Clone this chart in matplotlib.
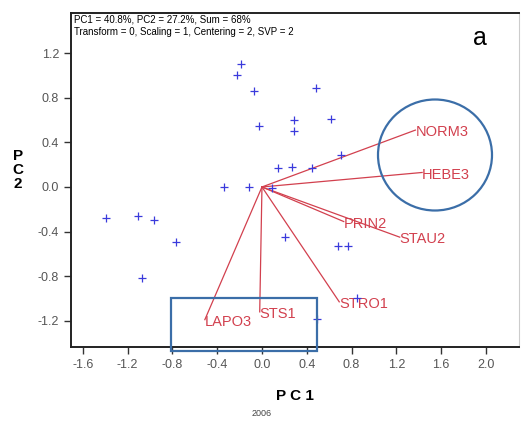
import matplotlib
matplotlib.use("Agg")
import matplotlib.pyplot as plt
from matplotlib.patches import Ellipse, Rectangle

plt.rcParams['font.family'] = ['Liberation Sans', 'DejaVu Sans']

# Sample scores (blue crosses)
score_x = [-0.19, -0.22, -0.07, 0.48, -0.03, 0.29, 0.29, 0.62, 0.71,
           0.14, 0.27, 0.45, -0.34, -0.12, 0.09,
           -1.39, -1.11, -0.96, -0.77, 0.21, 0.68, 0.77, -1.07, 0.85, 0.49]
score_y = [1.10, 1.00, 0.86, 0.89, 0.55, 0.60, 0.50, 0.61, 0.29,
           0.17, 0.18, 0.17, 0.00, 0.00, -0.01,
           -0.28, -0.26, -0.30, -0.49, -0.45, -0.53, -0.53, -0.82, -1.00, -1.18]

# Variable loadings (red vectors)
var_names = ["NORM3", "HEBE3", "PRIN2", "STAU2", "STRO1", "STS1", "LAPO3"]
var_x = [1.37, 1.43, 0.73, 1.23, 0.69, -0.02, -0.51]
var_y = [0.51, 0.13, -0.31, -0.45, -1.03, -1.12, -1.19]

xticks = [-1.6, -1.2, -0.8, -0.4, 0.0, 0.4, 0.8, 1.2, 1.6, 2.0]
yticks = [-1.2, -0.8, -0.4, 0.0, 0.4, 0.8, 1.2]

W, H = 523, 422
fig = plt.figure(figsize=(W / 100, H / 100), dpi=100)
ax = fig.add_axes([71 / W, 1 - 347 / H, (519 - 71) / W, (347 - 13) / H])
ax.set_xlim(-1.705, 2.295)
ax.set_ylim(-1.435, 1.56)

red = "#d2404e"
for vx, vy, name in zip(var_x, var_y, var_names):
    ax.plot([0, vx], [0, vy], color=red, lw=0.9, zorder=2)
    ax.text(vx, vy - 0.02, name, color=red, fontsize=10.5, ha="left", va="center", zorder=3)

ax.scatter(score_x, score_y, marker="+", s=40, color="#3a3adc", linewidths=0.9, zorder=4)

ax.set_xticks(xticks)
ax.set_xticklabels([f"{t:.1f}" for t in xticks])
ax.set_yticks(yticks)
ax.set_yticklabels([f"{t:.1f}" for t in yticks])
ax.tick_params(direction="out", length=5, width=1, color="#333333",
               labelcolor="#555555", labelsize=9)
for s in ["left", "bottom", "top"]:
    ax.spines[s].set_linewidth(1.4)
    ax.spines[s].set_color("#222222")
ax.spines["right"].set_color("#cccccc")
ax.spines["right"].set_linewidth(0.8)

ax.set_xlabel("P C 1", fontsize=11, fontweight="bold", labelpad=13)
fig.text(18 / W, 1 - 170 / H, "P\nC\n2", fontsize=11, fontweight="bold",
         ha="center", va="center", linespacing=1.0)
fig.text(262 / W, 1 - 413 / H, "2006", fontsize=6.5, color="#444444", ha="center", va="center")

fig.text(74 / W, 1 - 19 / H, "PC1 = 40.8%, PC2 = 27.2%, Sum = 68%", fontsize=7,
         ha="left", va="center")
fig.text(74 / W, 1 - 32 / H, "Transform = 0, Scaling = 1, Centering = 2, SVP = 2", fontsize=7,
         ha="left", va="center")
fig.text(480 / W, 1 - 38 / H, "a", fontsize=18, ha="center", va="center")

blue = "#3b6ea8"
fig.add_artist(Ellipse((435 / W, 1 - 155 / H), 114 / W, 111 / H, transform=fig.transFigure,
                       fill=False, edgecolor=blue, lw=1.6))
fig.add_artist(Rectangle((171 / W, 1 - 351 / H), (317 - 171) / W, (351 - 298) / H,
                         transform=fig.transFigure, fill=False, edgecolor=blue, lw=1.6))

fig.savefig("out.png", dpi=100)
